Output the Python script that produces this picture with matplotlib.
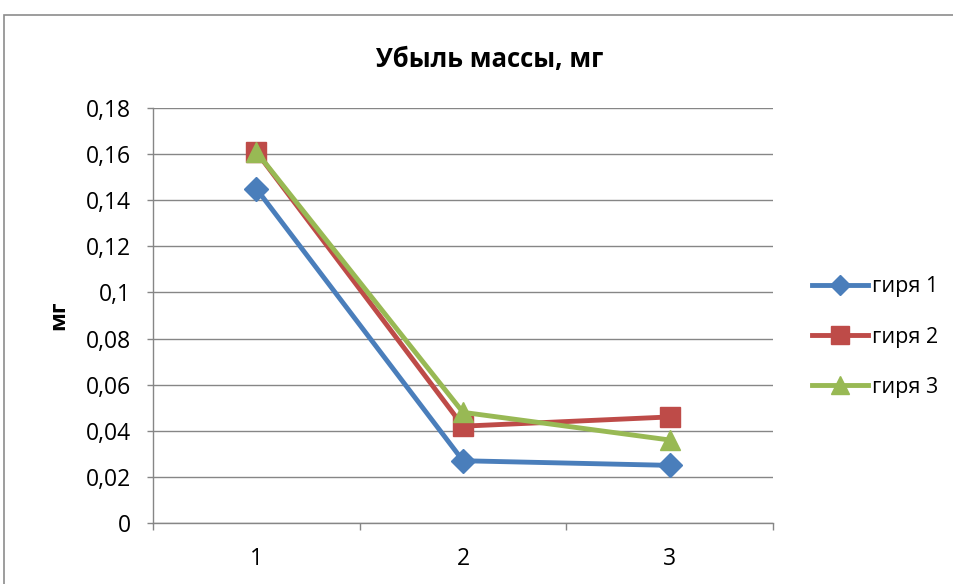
import matplotlib.pyplot as plt
from matplotlib.patches import Rectangle

# measurements per weight, mg
stages = ["1", "2", "3"]
girya1 = [0.145, 0.027, 0.025]
girya2 = [0.161, 0.042, 0.046]
girya3 = [0.161, 0.048, 0.036]
y_ticks = [0, 0.02, 0.04, 0.06, 0.08, 0.1, 0.12, 0.14, 0.16, 0.18]
y_labels = ["0", "0,02", "0,04", "0,06", "0,08", "0,1", "0,12", "0,14", "0,16", "0,18"]

plt.rcParams['font.family'] = ['Open Sans', 'DejaVu Sans']

fig = plt.figure(figsize=(9.54, 5.84), dpi=100)
# chart frame
fig.patches.append(Rectangle((4 / 954, -0.05), 1.2, (584 - 15) / 584 + 0.05,
                             transform=fig.transFigure, fill=False,
                             edgecolor='#8c8c8c', linewidth=1.2))

ax = fig.add_axes([153 / 954, 61 / 584, 620 / 954, 415 / 584])
x = list(range(1, len(stages) + 1))

ax.plot(x, girya1, color='#4a7ebb', lw=3.5, marker='D', ms=12.5, label='гиря 1', zorder=3)
ax.plot(x, girya2, color='#be4b48', lw=3.5, marker='s', ms=14.5, label='гиря 2', zorder=4)
ax.plot(x, girya3, color='#98b954', lw=3.5, marker='^', ms=15, label='гиря 3', zorder=5)

ax.set_xlim(0.5, 3.5)
ax.set_ylim(0, 0.18)
ax.set_yticks(y_ticks)
ax.set_yticklabels(y_labels, fontsize=16.5)
ax.set_xticks(x)
ax.set_xticklabels(stages, fontsize=16.5)
ax.set_xticks([0.5, 1.5, 2.5, 3.5], minor=True)
ax.tick_params(axis='x', which='major', length=0, pad=17)
ax.tick_params(axis='x', which='minor', length=5, color='#868686', width=1)
ax.tick_params(axis='y', length=4, color='#868686', width=1, pad=12)

ax.grid(axis='y', color='#868686', linewidth=1)
ax.set_axisbelow(True)
for side in ['top', 'right']:
    ax.spines[side].set_visible(False)
for side in ['left', 'bottom']:
    ax.spines[side].set_color('#868686')
    ax.spines[side].set_linewidth(1)

ax.set_ylabel('мг', fontsize=16, fontweight='bold', labelpad=12)
fig.text(490 / 954, 1 - 59 / 584, 'Убыль массы, мг', ha='center', va='center',
         fontsize=18.5, fontweight='bold')

fig.legend(loc='center left', bbox_to_anchor=(812 / 954, 1 - 337 / 584), frameon=False,
           fontsize=15.5, handlelength=2.6, handletextpad=0.2, labelspacing=1.35,
           borderpad=0, borderaxespad=0, markerscale=0.85)

fig.savefig('out.png', dpi=100)
